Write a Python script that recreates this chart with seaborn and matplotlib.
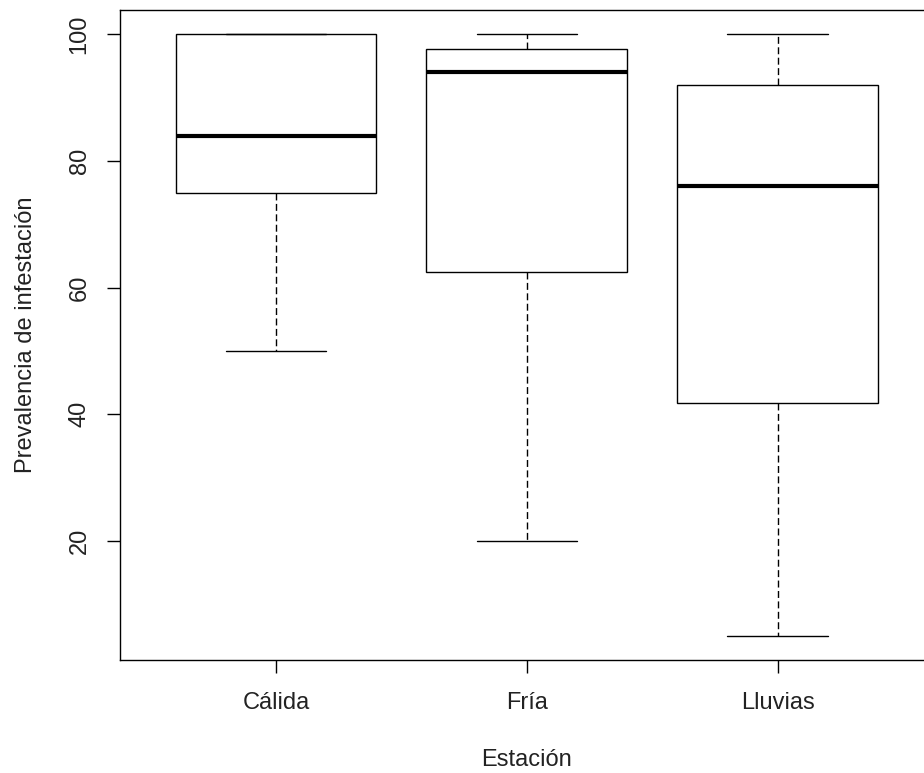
import pandas as pd
import matplotlib
matplotlib.use('Agg')
import matplotlib.pyplot as plt
import seaborn as sns

# five-number summaries (min, Q1, median, Q3, max)
estaciones = ['Cálida', 'Fría', 'Lluvias']
calida = [50, 75, 84, 100, 100]
fria = [20, 62.5, 94, 97.75, 100]
lluvias = [5, 41.75, 76, 92, 100]
yticks = [20, 40, 60, 80, 100]

df = pd.DataFrame({
    'Estación': ['Cálida'] * len(calida) + ['Fría'] * len(fria) + ['Lluvias'] * len(lluvias),
    'Prevalencia': calida + fria + lluvias,
})

sns.set_theme(style='white')
plt.rcParams['font.family'] = ['Liberation Sans', 'DejaVu Sans']
txt = '#222222'

fig = plt.figure(figsize=(9.24, 7.73), dpi=100)
ax = fig.add_axes([0.1303, 0.1462, 0.8795, 0.8403])

sns.boxplot(data=df, x='Estación', y='Prevalencia', order=estaciones,
            color='white', linecolor='black', linewidth=1, width=0.8,
            saturation=1, showfliers=False, ax=ax,
            medianprops={'linewidth': 3, 'color': 'black'},
            whiskerprops={'linestyle': (0, (5, 2.5)), 'linewidth': 1})

ax.set_xlim(-0.62, 2.62)
ax.set_ylim(1.2, 103.8)
ax.set_yticks(yticks)
ax.set_yticklabels([str(t) for t in yticks], rotation=90, va='center')

for s in ax.spines.values():
    s.set_color('black')
    s.set_linewidth(1)

ax.tick_params(axis='both', direction='out', length=9.4, width=1, color='black',
               labelsize=17, labelcolor=txt, left=True, bottom=True)
ax.tick_params(axis='y', pad=12)
ax.tick_params(axis='x', pad=14)

ax.set_xlabel('Estación', fontsize=17, color=txt, labelpad=25)
ax.set_ylabel('Prevalencia de infestación', fontsize=17, color=txt, labelpad=23)

fig.savefig('out.png', dpi=100, facecolor='white')
